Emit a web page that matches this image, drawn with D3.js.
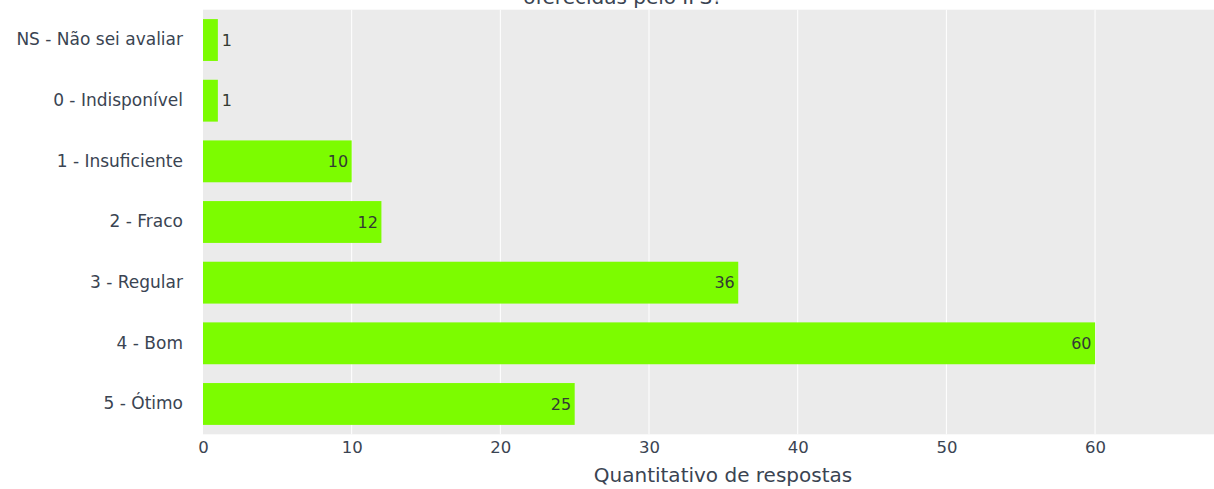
<!DOCTYPE html>
<html>
<head>
<meta charset="utf-8">
<script src="https://cdn.jsdelivr.net/npm/d3@7"></script>
<style>
  html, body { margin: 0; padding: 0; background: #fff; }
  svg { display: block; font-family: "DejaVu Sans", Verdana, sans-serif; }
</style>
</head>
<body>
<svg id="chart" width="1214" height="489"></svg>
<script>
// Answer categories, top to bottom
const categories = [
  "NS - Não sei avaliar",
  "0 - Indisponível",
  "1 - Insuficiente",
  "2 - Fraco",
  "3 - Regular",
  "4 - Bom",
  "5 - Ótimo"
];
// Number of answers per category
const counts = [1, 1, 10, 12, 36, 60, 25];
// Tick values on the count axis
const xTicks = [0, 10, 20, 30, 40, 50, 60];

const titleLine = "oferecidas pelo IFS?";
const xTitle = "Quantitativo de respostas";

const W = 1214, H = 489;
const margin = { top: 9.7, right: 0, bottom: 54.7, left: 203 };
const textColor = "#3a4452";

const svg = d3.select("#chart");

const x = d3.scaleLinear()
  .domain([0, 68])
  .range([margin.left, W - margin.right]);

const y = d3.scaleBand()
  .domain(categories)
  .range([margin.top, H - margin.bottom])
  .paddingInner(0.31)
  .paddingOuter(0.155);

// Plot background
svg.append("rect")
  .attr("x", margin.left)
  .attr("y", margin.top)
  .attr("width", W - margin.right - margin.left)
  .attr("height", H - margin.bottom - margin.top)
  .attr("fill", "#ebebeb");

// Vertical grid lines
svg.append("g")
  .selectAll("line")
  .data(xTicks.filter(d => d > 0))
  .join("line")
  .attr("x1", d => x(d)).attr("x2", d => x(d))
  .attr("y1", margin.top).attr("y2", H - margin.bottom)
  .attr("stroke", "#ffffff")
  .attr("stroke-width", 1);

// Bars
svg.append("g")
  .selectAll("rect")
  .data(categories)
  .join("rect")
  .attr("x", x(0))
  .attr("y", d => y(d))
  .attr("width", (d, i) => x(counts[i]) - x(0))
  .attr("height", y.bandwidth())
  .attr("fill", "#7cfc00");

// Value labels: inside the bar end when it fits, otherwise just outside
svg.append("g")
  .selectAll("text")
  .data(categories)
  .join("text")
  .attr("x", (d, i) => counts[i] >= 5 ? x(counts[i]) - 3.5 : x(counts[i]) + 4)
  .attr("y", d => y(d) + y.bandwidth() / 2)
  .attr("dy", "0.36em")
  .attr("text-anchor", (d, i) => counts[i] >= 5 ? "end" : "start")
  .attr("font-size", 16)
  .attr("fill", "#333a33")
  .text((d, i) => counts[i]);

// Category axis
const yAxis = svg.append("g")
  .attr("transform", `translate(${margin.left},0)`)
  .call(d3.axisLeft(y).tickSize(0).tickPadding(20));
yAxis.select(".domain").remove();
yAxis.selectAll("text")
  .attr("font-size", 17)
  .attr("font-family", "DejaVu Sans, Verdana, sans-serif")
  .attr("fill", textColor);

// Count axis
const xAxis = svg.append("g")
  .attr("transform", `translate(0,${H - margin.bottom})`)
  .call(d3.axisBottom(x).tickValues(xTicks).tickSize(0).tickPadding(7));
xAxis.select(".domain").remove();
xAxis.selectAll("text")
  .attr("font-size", 16.5)
  .attr("font-family", "DejaVu Sans, Verdana, sans-serif")
  .attr("fill", textColor);

// Axis title
svg.append("text")
  .attr("x", 723)
  .attr("y", 482)
  .attr("text-anchor", "middle")
  .attr("font-size", 20)
  .attr("fill", textColor)
  .text(xTitle);

// Chart title (last line)
svg.append("text")
  .attr("x", 623)
  .attr("y", 4)
  .attr("text-anchor", "middle")
  .attr("font-size", 20)
  .attr("fill", textColor)
  .text(titleLine);
</script>
</body>
</html>
